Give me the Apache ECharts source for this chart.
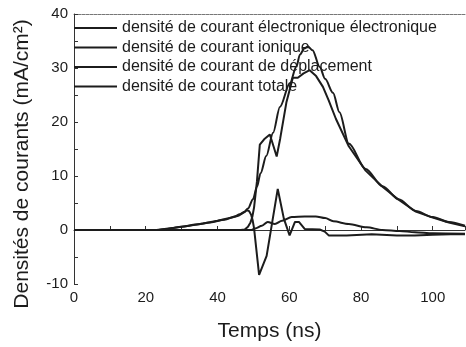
<!DOCTYPE html>
<html>
<head>
<meta charset="utf-8">
<script src="https://cdn.jsdelivr.net/npm/echarts@6/dist/echarts.min.js"></script>
<style>
  html, body { margin: 0; padding: 0; background: #fff; }
  #chart { width: 466px; height: 347px; }
</style>
</head>
<body>
<div id="chart"></div>
<script>
// values (time in ns, current density in mA/cm2)
const seriesNames = [
  'densité de courant électronique électronique',
  'densité de courant ionique',
  'densité de courant de déplacement',
  'densité de courant totale',
];

const tElec = [0, 46.5, 47.6, 48.5, 49.2, 49.7, 50.2, 51, 51.8, 53, 54.6, 56.5, 57.5, 59.2, 61, 62.4, 64, 65.7, 67.5, 69.4, 71, 73, 76.6, 81.3, 86, 90.5, 95.3, 100, 104.5, 109];
const vElec = [0, 0, 0.1, 0.6, 1.4, 2.4, 4.2, 9, 15.8, 16.8, 17.7, 13.6, 17, 23.6, 28.2, 28.2, 29, 29.6, 28.5, 26.5, 24, 20.6, 15.5, 11.0, 8.0, 5.6, 3.4, 2.3, 1.4, 0.7];

const tIon = [0, 49.5, 50.5, 52.4, 54, 56, 58, 60.7, 64.3, 67.4, 70, 72.3, 76.6, 81.6, 86, 90.8, 95, 100, 109];
const vIon = [0, 0, 0.3, 0.8, 1.5, 1.1, 1.7, 2.4, 2.5, 2.5, 2.2, 1.6, 1.1, 0.5, 0.0, -0.2, -0.4, -0.6, -0.7];

const tDep = [0, 23, 28, 32, 36, 40, 44, 46, 47.5, 48.2, 48.8, 49.4, 49.8, 50.2, 51.6, 53.7, 56.8, 58.5, 60.1, 61.6, 62.7, 64.3, 68.5, 69.9, 71, 76, 83, 90, 95, 100, 105, 109];
const vDep = [0, 0, 0.4, 0.8, 1.2, 1.7, 2.3, 2.7, 3.3, 3.7, 3.5, 2.8, 1.8, 0.3, -8.3, -4.8, 7.6, 2.1, -1.0, 1.5, 1.5, 0.2, 0.1, -0.3, -1.0, -1.0, -0.8, -1.0, -1.0, -0.9, -0.8, -0.8];

const tTot = [0, 23, 26, 30, 34, 38, 42, 44.8, 46.2, 47.5, 48.5, 49.9, 51, 52, 53.6, 55.5, 57.4, 60.2, 62, 63, 64.2, 65.2, 66.5, 68.5, 70, 72.2, 74, 76.6, 81.3, 86, 90.5, 95.3, 100, 104.5, 109];
const vTot = [0, 0, 0.2, 0.6, 1.0, 1.4, 1.9, 2.5, 2.9, 3.4, 4.0, 5.7, 8.0, 10.5, 13.7, 18, 22.8, 27.2, 30.3, 32.5, 33.6, 34, 33.3, 30.2, 28.0, 25.4, 21.8, 16.0, 11.3, 8.1, 5.7, 3.5, 2.4, 1.5, 0.8];

const xTicks = { min: 0, max: 109, interval: 20 };
const yTicks = { min: -10, max: 40, interval: 10 };

const FONT = '"Liberation Sans", Arial, sans-serif';
const INK = '#1c1c1c';

function pairs(ts, vs) {
  return ts.map((t, i) => [t, vs[i]]);
}

function lineSeries(name, ts, vs, smooth) {
  return {
    name: name,
    type: 'line',
    data: pairs(ts, vs),
    showSymbol: false,
    symbol: 'none',
    smooth: smooth,
    smoothMonotone: 'x',
    lineStyle: { color: INK, width: 2 },
    itemStyle: { color: INK },
  };
}

const chart = echarts.init(document.getElementById('chart'), null, { renderer: 'canvas' });

chart.setOption({
  animation: false,
  backgroundColor: '#fff',
  textStyle: { fontFamily: FONT },
  grid: { left: 74, right: 1, top: 14, bottom: 61 },
  legend: {
    orient: 'vertical',
    left: 74,
    top: 20,
    padding: 0,
    itemWidth: 43,
    itemHeight: 2,
    itemGap: 3.5,
    icon: 'rect',
    selectedMode: false,
    textStyle: { fontFamily: FONT, fontSize: 16, color: INK },
    data: seriesNames,
  },
  xAxis: [
    {
      type: 'value',
      min: xTicks.min,
      max: xTicks.max,
      interval: xTicks.interval,
      name: 'Temps (ns)',
      nameLocation: 'middle',
      nameGap: 37,
      nameTextStyle: { fontFamily: FONT, fontSize: 21, color: INK },
      axisLine: { show: true, lineStyle: { color: '#333', width: 1 } },
      axisTick: { show: true, inside: true, length: 4, lineStyle: { color: '#333' } },
      minorTick: { show: true, splitNumber: 2, length: 4, lineStyle: { color: '#333' } },
      axisLabel: { fontFamily: FONT, fontSize: 15, color: INK, margin: 6, showMaxLabel: false },
      splitLine: { show: false },
    },
    {
      type: 'value',
      position: 'top',
      min: xTicks.min,
      max: xTicks.max,
      axisLine: { show: true, lineStyle: { color: '#777', width: 1, type: [3, 1] } },
      axisTick: { show: false },
      axisLabel: { show: false },
      splitLine: { show: false },
    },
  ],
  yAxis: {
    type: 'value',
    min: yTicks.min,
    max: yTicks.max,
    interval: yTicks.interval,
    axisLine: { show: true, onZero: false, lineStyle: { color: '#333', width: 1 } },
    axisTick: { show: true, inside: true, length: 4, lineStyle: { color: '#333' } },
    minorTick: { show: true, splitNumber: 2, length: 4, lineStyle: { color: '#333' } },
    axisLabel: { fontFamily: FONT, fontSize: 15, color: INK, margin: 6 },
    splitLine: { show: false },
  },
  graphic: [
    {
      type: 'text',
      x: 22,
      y: 164,
      rotation: Math.PI / 2,
      style: {
        text: 'Densités de courants (mA/cm²)',
        fontFamily: FONT,
        fontSize: 21,
        fill: INK,
        align: 'center',
        verticalAlign: 'middle',
      },
    },
  ],
  series: [
    lineSeries(seriesNames[0], tElec, vElec, false),
    lineSeries(seriesNames[1], tIon, vIon, 0.3),
    lineSeries(seriesNames[2], tDep, vDep, false),
    lineSeries(seriesNames[3], tTot, vTot, 0.3),
  ],
});
</script>
</body>
</html>
